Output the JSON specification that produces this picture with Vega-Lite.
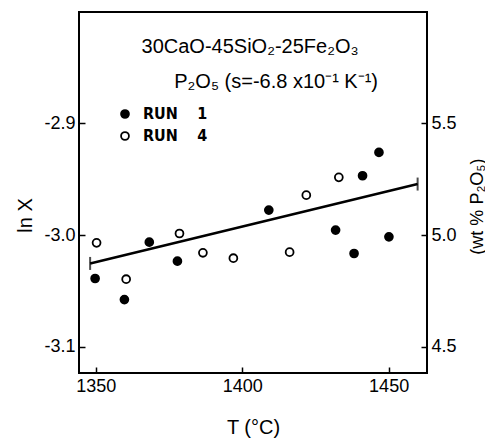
{
  "$schema": "https://vega.github.io/schema/vega-lite/v6.json",
  "width": 348,
  "height": 361,
  "autosize": {"type": "none"},
  "padding": {"left": 79, "top": 12, "right": 58, "bottom": 68},
  "background": "white",
  "config": {
    "font": "Liberation Sans",
    "view": {"stroke": "black", "strokeWidth": 2},
    "axis": {
      "grid": false,
      "domain": false,
      "tickColor": "black",
      "tickWidth": 1.5,
      "tickSize": -6,
      "labelColor": "black",
      "titleColor": "black",
      "labelFontSize": 18,
      "titleFontSize": 20,
      "titleFontWeight": "normal",
      "labelPadding": 10
    }
  },
  "encoding": {
    "x": {
      "field": "T",
      "type": "quantitative",
      "scale": {"domain": [1344.3, 1463.1], "nice": false, "zero": false},
      "axis": {
        "values": [1350, 1400, 1450],
        "format": "d",
        "title": "T (°C)",
        "titleX": 174,
        "titleY": 54,
        "titleBaseline": "middle",
        "titleAlign": "center"
      }
    }
  },
  "layer": [
    {
      "data": {
        "values": [
          {"T": 1349.8, "lnX": -3.0388, "run": "RUN 1"},
          {"T": 1359.8, "lnX": -3.0576, "run": "RUN 1"},
          {"T": 1368.3, "lnX": -3.0063, "run": "RUN 1"},
          {"T": 1377.9, "lnX": -3.0233, "run": "RUN 1"},
          {"T": 1409.1, "lnX": -2.9776, "run": "RUN 1"},
          {"T": 1431.9, "lnX": -2.9955, "run": "RUN 1"},
          {"T": 1438.2, "lnX": -3.0164, "run": "RUN 1"},
          {"T": 1441.1, "lnX": -2.9469, "run": "RUN 1"},
          {"T": 1446.7, "lnX": -2.926, "run": "RUN 1"},
          {"T": 1450.1, "lnX": -3.0015, "run": "RUN 1"},
          {"T": 1350.3, "lnX": -3.0069, "run": "RUN 4"},
          {"T": 1360.4, "lnX": -3.0394, "run": "RUN 4"},
          {"T": 1378.6, "lnX": -2.9985, "run": "RUN 4"},
          {"T": 1386.6, "lnX": -3.0158, "run": "RUN 4"},
          {"T": 1397.0, "lnX": -3.0206, "run": "RUN 4"},
          {"T": 1416.2, "lnX": -3.0152, "run": "RUN 4"},
          {"T": 1421.9, "lnX": -2.9642, "run": "RUN 4"},
          {"T": 1433.0, "lnX": -2.9483, "run": "RUN 4"}
        ]
      },
      "mark": {"type": "point", "shape": "circle", "filled": true, "stroke": "black", "strokeWidth": 1.8, "size": 62, "opacity": 1},
      "encoding": {
        "y": {
          "field": "lnX",
          "type": "quantitative",
          "scale": {"domain": [-3.1233, -2.8004], "nice": false, "zero": false},
          "axis": {
            "orient": "left",
            "values": [-3.1, -3.0, -2.9],
            "labelExpr": "replace(format(datum.value, '.1f'), '−', '-')",
            "title": "ln X",
            "titleAngle": -90,
            "titleX": -54,
            "titleY": 203,
            "titleBaseline": "middle",
            "titleAlign": "center"
          }
        },
        "fill": {
          "field": "run",
          "type": "nominal",
          "scale": {"domain": ["RUN 1", "RUN 4"], "range": ["black", "white"]},
          "legend": {
            "orient": "none",
            "legendX": 38,
            "legendY": 94,
            "title": null,
            "padding": 0,
            "labelFont": "DejaVu Sans Condensed",
            "labelFontSize": 16,
            "labelFontWeight": "bold",
            "labelColor": "black",
            "labelOffset": 10,
            "rowPadding": 6,
            "symbolType": "circle",
            "symbolSize": 62,
            "symbolStrokeColor": "black",
            "symbolStrokeWidth": 1.8,
            "labelExpr": "replace(datum.label, ' ', '\u2003 ')"
          }
        }
      }
    },
    {
      "data": {"values": [{"T": 1348.1, "lnX": -3.0253}, {"T": 1459.9, "lnX": -2.9543}]},
      "mark": {"type": "line", "color": "black", "strokeWidth": 2.5},
      "encoding": {
        "y": {
          "field": "lnX",
          "type": "quantitative",
          "scale": {"domain": [-3.1233, -2.8004], "nice": false, "zero": false},
          "axis": {
            "orient": "right",
            "values": [-3.1, -3.0, -2.9],
            "labelExpr": "format(5 + 5 * (datum.value + 3), '.1f')",
            "title": "(wt % P₂O₅)",
            "titleFontSize": 18,
            "titleAngle": -90,
            "titleX": 50,
            "titleY": 194,
            "titleBaseline": "middle",
            "titleAlign": "center"
          }
        }
      }
    },
    {
      "data": {"values": [{"T": 1348.1, "lnX": -3.0253}, {"T": 1459.9, "lnX": -2.9543}]},
      "mark": {"type": "tick", "orient": "vertical", "color": "black", "size": 13, "thickness": 2},
      "encoding": {
        "y": {
          "field": "lnX",
          "type": "quantitative",
          "scale": {"domain": [-3.1233, -2.8004], "nice": false, "zero": false},
          "axis": null
        }
      }
    },
    {
      "data": {
        "values": [
          {"T": 1402.7, "lnX": -2.8317, "label": "30CaO-45SiO₂-25Fe₂O₃"},
          {"T": 1411.6, "lnX": -2.863, "label": "P₂O₅ (s=-6.8 x10⁻¹ K⁻¹)"}
        ]
      },
      "mark": {"type": "text", "fontSize": 20, "color": "black", "align": "center", "baseline": "middle"},
      "encoding": {
        "y": {
          "field": "lnX",
          "type": "quantitative",
          "scale": {"domain": [-3.1233, -2.8004], "nice": false, "zero": false},
          "axis": null
        },
        "text": {"field": "label"}
      }
    }
  ],
  "resolve": {"scale": {"y": "independent"}}
}
